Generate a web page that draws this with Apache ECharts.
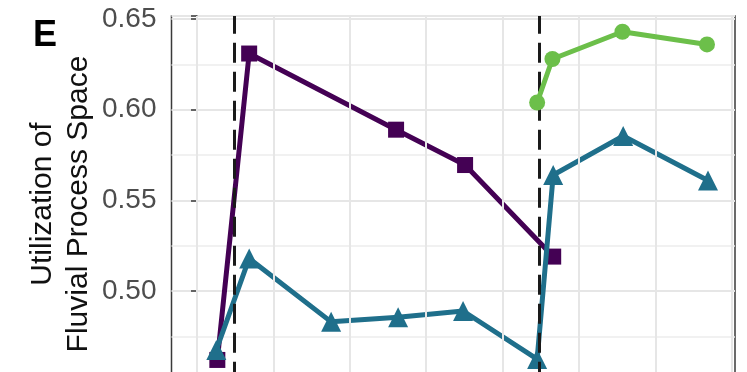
<!DOCTYPE html>
<html>
<head>
<meta charset="utf-8">
<script src="https://cdn.jsdelivr.net/npm/echarts@6/dist/echarts.min.js"></script>
<style>
  html, body { margin: 0; padding: 0; background: #ffffff; }
  #chart { width: 747px; height: 372px; }
</style>
</head>
<body>
<div id="chart"></div>
<script>
// Utilization of fluvial process space through time, three stages
const stageAX = [0.80, 2.05, 7.82, 10.53, 13.99];
const stageAY = [0.462, 0.631, 0.589, 0.5695, 0.519];

const stageBX = [0.76, 2.05, 5.27, 7.90, 10.45, 13.36, 13.99, 16.74, 20.07];
const stageBY = [0.4675, 0.518, 0.483, 0.4855, 0.489, 0.4625, 0.564, 0.5855, 0.561];

const stageCX = [13.36, 13.96, 16.71, 20.03];
const stageCY = [0.604, 0.628, 0.643, 0.636];

// event markers (dashed verticals) and vertical grid positions
const eventX = [1.47, 13.45];
const xGridValues = [0, 3, 6, 9, 12, 15, 18, 21];

const yTickLabels = ['0.50', '0.55', '0.60', '0.65'];

const xMin = -1, xMax = 21.13;
const yMin = 0.45, yMax = 0.6517;

const colA = '#440154';
const colB = '#1f6f8b';
const colC = '#6cbf4a';

function pairs(xs, ys) { return xs.map((x, i) => [x, ys[i]]); }

const chart = echarts.init(document.getElementById('chart'), null, { renderer: 'canvas' });

chart.setOption({
  animation: false,
  backgroundColor: '#ffffff',
  grid: {
    left: 171.5, right: 12, top: 16, height: 365.7,
    show: true, borderColor: '#3a3a3a', borderWidth: 1.5,
    outerBoundsMode: 'none', containLabel: false
  },
  xAxis: {
    type: 'value', min: xMin, max: xMax,
    axisLine: { show: false }, axisTick: { show: false },
    axisLabel: { show: false }, splitLine: { show: false }
  },
  yAxis: {
    type: 'value', min: yMin, max: yMax, interval: 0.05,
    axisLine: { show: true, lineStyle: { color: '#3a3a3a', width: 1.5 } },
    axisTick: { show: true, length: 6, lineStyle: { color: '#3a3a3a', width: 1.5 } },
    axisLabel: {
      margin: 15, color: '#4d4d4d', fontSize: 28, fontFamily: 'Liberation Sans, Arial, sans-serif',
      formatter: function (v) {
        const s = v.toFixed(2);
        return (yTickLabels.indexOf(s) >= 0 && Math.abs(v - parseFloat(s)) < 1e-6) ? s : '';
      }
    },
    splitLine: { show: true, lineStyle: { color: '#e6e6e6', width: 2 } },
    minorTick: { show: false, splitNumber: 2 },
    minorSplitLine: { show: true, lineStyle: { color: '#ededed', width: 1.5 } }
  },
  graphic: [
    {
      type: 'text', x: 61, y: 204, rotation: Math.PI / 2,
      style: {
        text: 'Utilization of\nFluvial Process Space',
        font: '30px "Liberation Sans", Arial, sans-serif',
        fill: '#111111', align: 'center', verticalAlign: 'middle', lineHeight: 36
      }
    },
    {
      type: 'text', x: 33, y: 36,
      style: {
        text: 'E', font: 'bold 36px "Liberation Sans", Arial, sans-serif',
        fill: '#000000', align: 'left', verticalAlign: 'middle'
      }
    }
  ],
  series: [
    {
      type: 'line', name: 'grid', data: [], silent: true, z: 1,
      markLine: {
        silent: true, symbol: 'none', label: { show: false },
        lineStyle: { color: '#e6e6e6', width: 2, type: 'solid' },
        data: xGridValues.map(v => ({ xAxis: v }))
      }
    },
    {
      type: 'line', name: 'events', data: [], silent: true, z: 2,
      markLine: {
        silent: true, symbol: 'none', label: { show: false },
        lineStyle: { color: '#1a1a1a', width: 3, type: [20, 9] },
        data: eventX.map(v => ({ xAxis: v }))
      }
    },
    {
      type: 'line', name: 'A', data: pairs(stageAX, stageAY), z: 3,
      symbol: 'rect', symbolSize: 16,
      lineStyle: { color: colA, width: 5 }, itemStyle: { color: colA }
    },
    {
      type: 'line', name: 'B', data: pairs(stageBX, stageBY), z: 4,
      symbol: 'triangle', symbolSize: 20,
      lineStyle: { color: colB, width: 5 }, itemStyle: { color: colB }
    },
    {
      type: 'line', name: 'C', data: pairs(stageCX, stageCY), z: 5,
      symbol: 'circle', symbolSize: 16,
      lineStyle: { color: colC, width: 5 }, itemStyle: { color: colC }
    }
  ]
});
</script>
</body>
</html>
